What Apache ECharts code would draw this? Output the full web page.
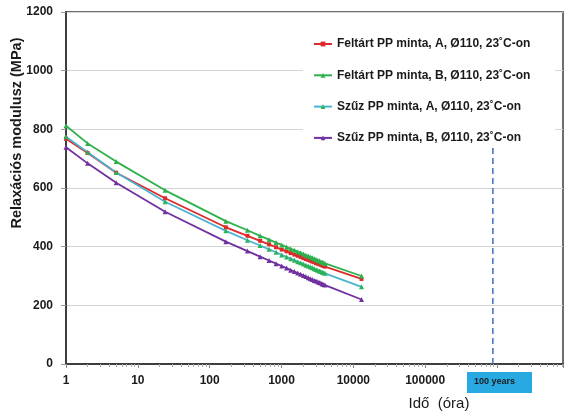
<!DOCTYPE html>
<html lang="hu">
<head>
<meta charset="utf-8" />
<title>Relaxációs modulusz</title>
<style>
  html, body { margin: 0; padding: 0; background: #fff; }
  #chart { width: 566px; height: 411px; }
</style>
</head>
<body>
<div id="chart"></div>
<script src="https://cdn.jsdelivr.net/npm/echarts@6/dist/echarts.min.js"></script>
<script>
// mérési időpontok (óra)
var hours = [1, 2, 5, 24, 168, 336, 504, 672, 840, 1008, 1176, 1344, 1512, 1680, 1848,
  2016, 2184, 2352, 2520, 2688, 2856, 3024, 3192, 3360, 3528, 3696, 3864, 4032, 13000];

// relaxációs modulusz (MPa)
var feltartA = [768, 719, 652, 565, 466, 437, 420, 408, 398, 390, 384, 378, 373, 369, 365,
  361, 358, 355, 352, 349, 347, 344, 342, 340, 338, 336, 334, 332, 290];
var feltartB = [812, 752, 690, 592, 487, 456, 437, 424, 414, 406, 399, 393, 388, 383, 379,
  375, 371, 368, 365, 362, 359, 356, 354, 352, 349, 347, 345, 343, 300];
var szuzA = [775, 722, 653, 553, 454, 422, 404, 391, 381, 372, 365, 359, 354, 349, 345,
  341, 337, 334, 331, 328, 325, 322, 320, 317, 315, 313, 311, 309, 263];
var szuzB = [739, 684, 618, 519, 417, 385, 366, 353, 342, 334, 327, 320, 315, 310, 306,
  302, 298, 294, 291, 288, 285, 283, 280, 278, 276, 273, 271, 269, 220];

var seriesNames = [
  'Feltárt PP minta, A, Ø110, 23˚C-on',
  'Feltárt PP minta, B, Ø110, 23˚C-on',
  'Szűz PP minta, A, Ø110, 23˚C-on',
  'Szűz PP minta, B, Ø110, 23˚C-on'
];

// 100 év = 876000 óra
var hundredYears = [876000, 876000];
var hundredYearsLine = [0, 736];

var xTicks = [1, 10, 100, 1000, 10000, 100000];

function pairs(xs, ys) {
  return xs.map(function (x, i) { return [x, ys[i]]; });
}

var chart = echarts.init(document.getElementById('chart'));

function lineSeries(name, data, lineColor, markColor, symbol) {
  return {
    name: name,
    type: 'line',
    data: pairs(hours, data),
    symbol: symbol,
    symbolSize: symbol === 'rect' ? 4 : 5,
    lineStyle: { color: lineColor, width: 1.8 },
    itemStyle: { color: markColor },
    color: markColor,
    z: 3
  };
}

var option = {
  animation: false,
  textStyle: { fontFamily: '"Liberation Sans", Arial, sans-serif' },
  grid: {
    left: 66, right: 0, top: 12, bottom: 47,
    show: true, borderColor: '#3f3f3f', borderWidth: 1.5
  },
  legend: {
    data: seriesNames,
    orient: 'vertical',
    left: 303,
    top: 27,
    padding: [11, 25, 3, 10],
    itemGap: 19.3,
    itemWidth: 18,
    itemHeight: 6,
    backgroundColor: '#fff',
    textStyle: { fontSize: 12, fontWeight: 'bold', color: '#1a1a1a' }
  },
  xAxis: {
    type: 'log',
    logBase: 10,
    min: 1,
    max: 8300000,
    axisLine: { lineStyle: { color: '#3f3f3f', width: 2 } },
    axisTick: { show: true, length: 4, lineStyle: { color: '#888' } },
    minorTick: { show: true, splitNumber: 9, length: 3, lineStyle: { color: '#aaa' } },
    splitLine: { show: false },
    axisLabel: {
      margin: 11,
      fontSize: 12,
      fontWeight: 'bold',
      color: '#1a1a1a',
      formatter: function (v) {
        return xTicks.indexOf(v) >= 0 ? String(v) : '';
      }
    }
  },
  yAxis: {
    type: 'value',
    min: 0,
    max: 1200,
    interval: 200,
    axisLine: { show: true, lineStyle: { color: '#3f3f3f', width: 2 } },
    axisTick: { show: true, length: 5, lineStyle: { color: '#999' } },
    splitLine: { lineStyle: { color: '#d4d4d4', width: 1 } },
    axisLabel: {
      margin: 13, fontSize: 12, fontWeight: 'bold', color: '#1a1a1a',
      formatter: function (v) { return String(v); }
    }
  },
  graphic: [
    {
      type: 'text',
      x: 17, y: 133,
      rotation: Math.PI / 2,
      style: {
        text: 'Relaxációs modulusz (MPa)',
        fontSize: 14.5, fontWeight: 'bold', fill: '#1a1a1a',
        fontFamily: '"Liberation Sans", Arial, sans-serif',
        align: 'center', verticalAlign: 'middle'
      }
    },
    {
      type: 'text',
      x: 439, y: 404,
      style: {
        text: 'Idő  (óra)',
        fontSize: 15, fill: '#1a1a1a',
        fontFamily: '"Liberation Sans", Arial, sans-serif',
        align: 'center', verticalAlign: 'middle'
      }
    },
    {
      type: 'rect',
      shape: { x: 467, y: 372, width: 65, height: 21 },
      style: { fill: '#29a9e1' }
    },
    {
      type: 'text',
      x: 474, y: 382,
      style: {
        text: '100 years',
        fontSize: 9, fontWeight: 'bold', fill: '#1a1a1a',
        fontFamily: '"Liberation Sans", Arial, sans-serif',
        verticalAlign: 'middle'
      }
    }
  ],
  series: [
    lineSeries(seriesNames[0], feltartA, '#dc2a2a', '#dc2a2a', 'rect'),
    lineSeries(seriesNames[1], feltartB, '#2eb04c', '#2eb04c', 'triangle'),
    lineSeries(seriesNames[2], szuzA, '#4bb4d2', '#2bb35a', 'triangle'),
    lineSeries(seriesNames[3], szuzB, '#7030a0', '#7030a0', 'triangle'),
    {
      name: '100 years',
      type: 'line',
      data: pairs(hundredYears, hundredYearsLine),
      symbol: 'none',
      lineStyle: { color: '#3f6fc6', width: 1.5, type: [6, 4] },
      z: 2
    }
  ]
};

chart.setOption(option);

window.onresize = function () {
  chart.resize();
};
</script>
</body>
</html>
